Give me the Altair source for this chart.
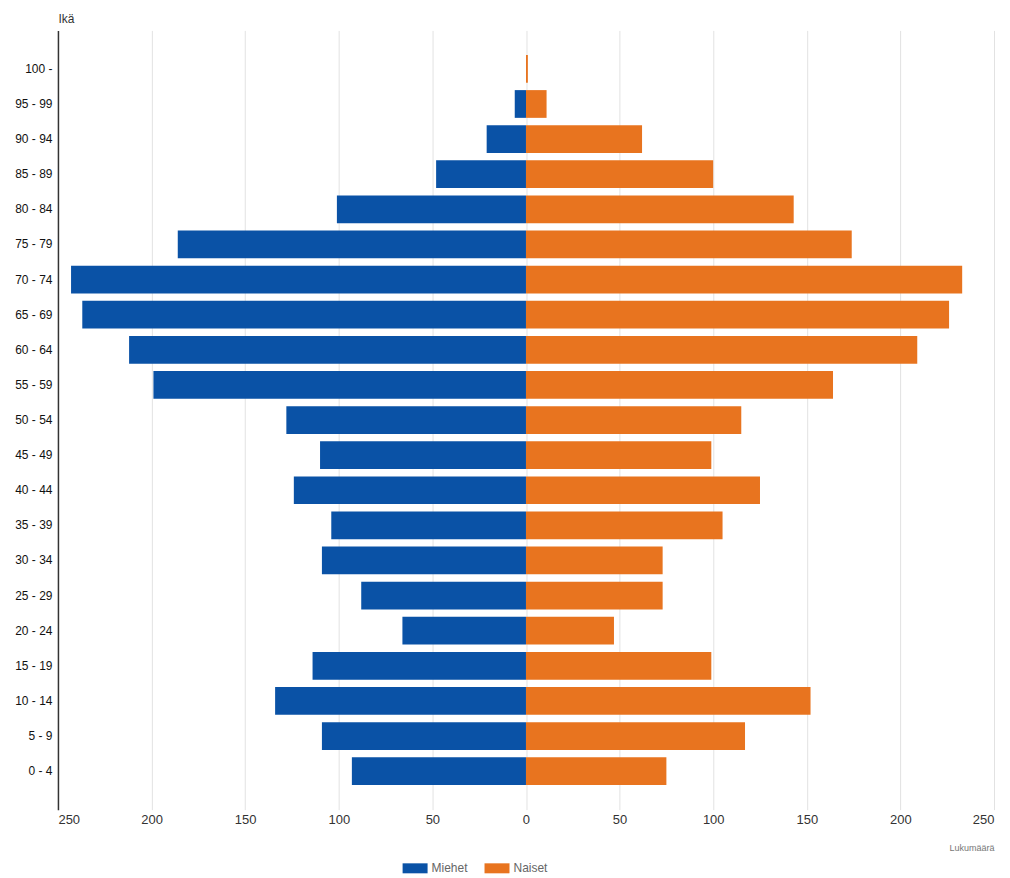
import altair as alt
import pandas as pd

ages = ["100 -", "95 - 99", "90 - 94", "85 - 89", "80 - 84", "75 - 79", "70 - 74",
        "65 - 69", "60 - 64", "55 - 59", "50 - 54", "45 - 49", "40 - 44", "35 - 39",
        "30 - 34", "25 - 29", "20 - 24", "15 - 19", "10 - 14", "5 - 9", "0 - 4"]
miehet = [0, 6, 21, 48, 101, 186, 243, 237, 212, 199, 128, 110, 124, 104, 109, 88, 66, 114, 134, 109, 93]
naiset = [1, 11, 62, 100, 143, 174, 233, 226, 209, 164, 115, 99, 125, 105, 73, 73, 47, 99, 152, 117, 75]
x_ticks = [-250, -200, -150, -100, -50, 0, 50, 100, 150, 200, 250]

rows = []
for a, m, n in zip(ages, miehet, naiset):
    rows.append({"Ikä": a, "Sukupuoli": "Miehet", "Arvo": -m})
    rows.append({"Ikä": a, "Sukupuoli": "Naiset", "Arvo": n})
df = pd.DataFrame(rows)

font = "Liberation Sans"

chart = alt.Chart(df).mark_bar().encode(
    y=alt.Y("Ikä:N", sort=ages,
            scale=alt.Scale(paddingInner=0.21, paddingOuter=0.7),
            axis=alt.Axis(title="Ikä", titleAngle=0, titleX=0, titleY=-12,
                          titleAlign="left", titleBaseline="middle",
                          titleFontSize=12, titleFontWeight="normal", titleColor="#333",
                          titleFont=font,
                          labelFont=font, labelFontSize=12, labelColor="#111",
                          labelPadding=6, ticks=False, domain=True,
                          domainColor="#333", domainWidth=1.5, grid=False)),
    x=alt.X("Arvo:Q",
            scale=alt.Scale(domain=[-250, 250], nice=False),
            axis=alt.Axis(values=x_ticks, labelExpr="abs(datum.value)",
                          title="Lukumäärä", titleAnchor="end", titleAlign="right",
                          titleX=937, titleY=34, titleFontSize=9,
                          titleFontWeight="normal", titleColor="#777", titleFont=font,
                          labelFont=font, labelFontSize=13, labelColor="#333",
                          labelPadding=4, ticks=False, domain=False,
                          grid=True, gridColor="#e2e2e2", gridWidth=1)),
    color=alt.Color("Sukupuoli:N",
                    scale=alt.Scale(domain=["Miehet", "Naiset"], range=["#0a52a6", "#e8741f"]),
                    legend=alt.Legend(title=None, orient="none", direction="horizontal",
                                      legendX=345, legendY=826,
                                      symbolType="M-1,-0.4H1V0.4H-1Z", symbolSize=625,
                                      symbolStrokeWidth=0, labelFont=font, labelFontSize=12,
                                      labelColor="#666", labelOffset=4, columnPadding=16)),
).properties(
    width=937, height=780,
    background="white",
    autosize=alt.AutoSizeParams(type="none"),
    padding={"left": 50, "top": 22, "right": 8, "bottom": 66},
).configure_view(stroke=None)

chart.save("out.html", embed_options={"renderer": "svg", "actions": False})
